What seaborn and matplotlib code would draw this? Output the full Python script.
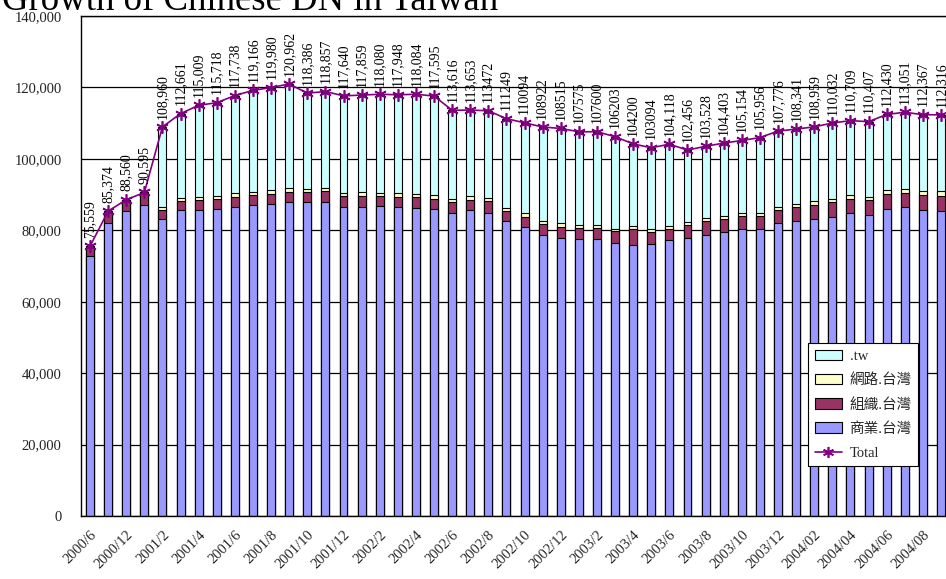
import numpy as np
import matplotlib
matplotlib.use("Agg")
import matplotlib.pyplot as plt
import seaborn as sns
from matplotlib.patches import Patch
from matplotlib.lines import Line2D

# ---- data -------------------------------------------------------------
months = [
    "2000/6", "2000/9", "2000/12", "2001/1", "2001/2", "2001/3", "2001/4",
    "2001/5", "2001/6", "2001/7", "2001/8", "2001/9", "2001/10", "2001/11",
    "2001/12", "2002/1", "2002/2", "2002/3", "2002/4", "2002/5", "2002/6",
    "2002/7", "2002/8", "2002/9", "2002/10", "2002/11", "2002/12", "2003/1",
    "2003/2", "2003/3", "2003/4", "2003/5", "2003/6", "2003/7", "2003/8",
    "2003/9", "2003/10", "2003/11", "2003/12", "2004/01", "2004/02",
    "2004/03", "2004/04", "2004/05", "2004/06", "2004/07", "2004/08",
    "2004/09",
]

# 商業.台灣
commercial = [
    72800, 82100, 85300, 87100, 83100, 85600, 85700, 85900, 86600, 87000,
    87400, 87900, 87800, 87900, 86600, 86600, 86700, 86500, 86300, 85900,
    84900, 85600, 84900, 82600, 80800, 78600, 77900, 77600, 77500, 76400,
    75800, 76200, 77200, 77900, 78800, 79400, 80300, 80400, 82000, 82600,
    83200, 83800, 84800, 84300, 86000, 86400, 85600, 85500,
]
# 組織.台灣
organization = [
    2600, 3000, 3100, 3100, 2600, 2600, 2800, 2900, 2800, 2900,
    2800, 2800, 2800, 3000, 2900, 3100, 2900, 2900, 3000, 3000,
    3100, 2900, 3300, 2800, 3000, 3200, 3100, 3100, 3100, 3300,
    4500, 3300, 3200, 3500, 3800, 3700, 3700, 3700, 3700, 3800,
    3900, 4000, 4000, 4100, 4200, 4100, 4200, 4200,
]
# 網路.台灣
network = [
    159, 274, 160, 395, 700, 900, 700, 700, 1000, 900,
    1100, 1100, 900, 900, 900, 900, 900, 1000, 900, 1000,
    800, 1000, 800, 900, 1000, 800, 1000, 900, 800, 700,
    900, 900, 900, 900, 800, 800, 900, 800, 900, 1000,
    1000, 1000, 1000, 1000, 1000, 1100, 1100, 1200,
]
# .tw
dot_tw = [
    0, 0, 0, 0, 22560, 23561, 25809, 26218, 27338, 28366,
    28680, 29162, 26886, 27057, 27240, 27259, 27580, 27548, 27884, 27695,
    24816, 24153, 24472, 24949, 25294, 26322, 26515, 25975, 26200, 25803,
    23000, 22694, 22818, 20156, 20128, 20503, 20254, 21056, 21176, 20941,
    20859, 21232, 20909, 21007, 21230, 21451, 21467, 21416,
]
# Total, as printed above each bar
total_labels = [
    "75,559", "85,374", "88,560", "90,595", "108,960", "112,661", "115,009",
    "115,718", "117,738", "119,166", "119,980", "120,962", "118,386",
    "118,857", "117,640", "117,859", "118,080", "117,948", "118,084",
    "117,595", "113,616", "113,653", "113472", "111249", "110094", "108922",
    "108515", "107575", "107600", "106203", "104200", "103094", "104,118",
    "102,456", "103,528", "104,403", "105,154", "105,956", "107,776",
    "108,341", "108,959", "110,032", "110,709", "110,407", "112,430",
    "113,051", "112,367", "112,316",
]
totals = [int(s.replace(",", "")) for s in total_labels]

series_names = ["商業.台灣", "組織.台灣", "網路.台灣", ".tw"]
series_colors = ["#9999FF", "#993366", "#FFFFCC", "#CCFFFF"]
line_color = "#800080"
y_ticks = [0, 20000, 40000, 60000, 80000, 100000, 120000, 140000]

# ---- style ------------------------------------------------------------
sns.set_theme(style="white")
plt.rcParams["font.family"] = ["Liberation Serif", "Noto Sans CJK TC"]
plt.rcParams["axes.edgecolor"] = "black"
plt.rcParams["axes.linewidth"] = 1.0

fig = plt.figure(figsize=(9.46, 5.79), dpi=100)
fig.patch.set_facecolor("white")
ax = fig.add_axes([81 / 946, 63 / 579, 869 / 946, 500 / 579])
ax.set_facecolor("white")

# ---- stacked bars (tallest cumulative layer drawn first) ---------------
layers = [commercial, organization, network, dot_tw]
cumulative = np.cumsum(np.array(layers, dtype=float), axis=0)
for k in range(len(layers) - 1, -1, -1):
    sns.barplot(
        x=months, y=cumulative[k], order=months, color=series_colors[k],
        saturation=1, width=0.44, edgecolor="black", linewidth=0.8,
        errorbar=None, ax=ax, zorder=2,
    )

# ---- total line -------------------------------------------------------
positions = np.arange(len(months))
sns.lineplot(
    x=positions, y=totals, color=line_color, linewidth=1.2,
    marker=(6, 2, 0), markersize=9, markeredgecolor=line_color,
    markeredgewidth=1.2, ax=ax, zorder=4, sort=False,
)

for i, (v, s) in enumerate(zip(totals, total_labels)):
    ax.annotate(s, xy=(i, v), xytext=(0, 6), textcoords="offset points",
                rotation=90, ha="center", va="bottom", fontsize=10,
                color="black", zorder=5)

# ---- axes -------------------------------------------------------------
ax.set_ylim(0, 140000)
ax.set_xlim(-0.5, len(months) - 0.5)
ax.set_yticks(y_ticks)
ax.set_yticklabels([f"{t:,}" for t in y_ticks], fontsize=10.5, color="#222222")
ax.yaxis.grid(True, color="black", linewidth=0.9, zorder=0)
ax.set_axisbelow(True)

ax.set_xticks(positions[::2])
ax.set_xticklabels(months[::2], rotation=45, ha="right", va="top",
                   rotation_mode="anchor", fontsize=10.5)
ax.set_xticks(positions[:-1] + 0.5, minor=True)
ax.tick_params(axis="x", which="major", length=0, pad=9)
ax.tick_params(axis="x", which="minor", length=4, direction="in",
               color="black", width=0.8)
ax.tick_params(axis="y", length=4, direction="in", color="black", pad=14)
ax.set_xlabel("")
ax.set_ylabel("")
for sp in ax.spines.values():
    sp.set_visible(True)
    sp.set_color("black")

# ---- legend -----------------------------------------------------------
handles = [Patch(facecolor=series_colors[k], edgecolor="black", linewidth=0.8)
           for k in (3, 2, 1, 0)]
handles.append(Line2D([], [], color=line_color, linewidth=1.2,
                      marker=(6, 2, 0), markersize=8,
                      markeredgecolor=line_color, markeredgewidth=1.2))
labels = [series_names[k] for k in (3, 2, 1, 0)] + ["Total"]
leg = ax.legend(handles, labels, loc="upper left",
                bbox_to_anchor=(0.8366, 0.346), borderaxespad=0,
                fontsize=10.5, frameon=True, fancybox=False,
                edgecolor="black", framealpha=1, handlelength=1.9,
                handleheight=0.75, labelspacing=0.72, handletextpad=0.5,
                borderpad=0.45)
leg.get_frame().set_linewidth(0.8)
leg.set_zorder(10)

# ---- title ------------------------------------------------------------
fig.text(0.002, 1 - 10 / 579, "Growth of Chinese DN in Taiwan",
         fontsize=26.5, ha="left", va="baseline", color="black")

fig.savefig("out.png", dpi=100, facecolor="white")
